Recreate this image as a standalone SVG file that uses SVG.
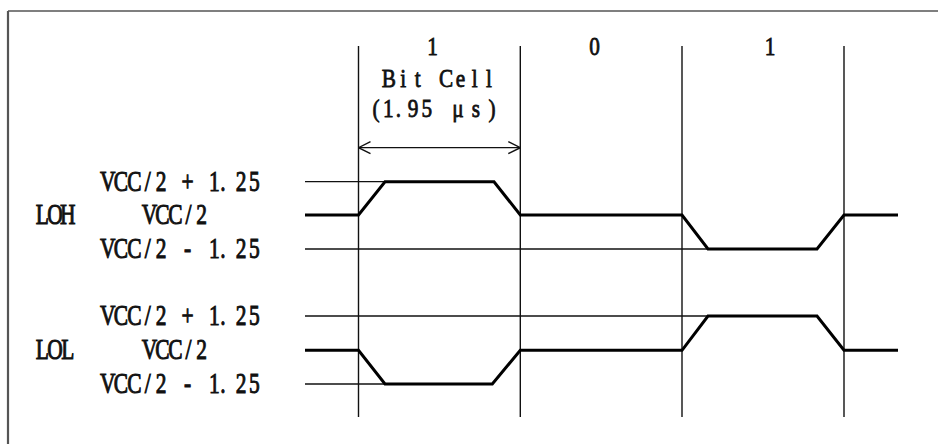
<svg xmlns="http://www.w3.org/2000/svg" width="938" height="444" viewBox="0 0 938 444">
  <style>
    .lbl { font-family: "Liberation Serif", "DejaVu Serif", serif; fill: #111; stroke: #111; text-anchor: middle; }
    .top { font-size: 25px; stroke-width: 0.8px; }
    .side { font-size: 29px; stroke-width: 1px; }
    .thin { stroke: #111; stroke-width: 1.3; fill: none; }
    .vline { stroke: #111; stroke-width: 1.4; fill: none; }
    .wave { stroke: #000; stroke-width: 3; fill: none; stroke-linejoin: miter; }
    .frame { stroke: #555; fill: none; }
  </style>
  <defs>
    <marker id="arr" viewBox="0 0 14 14" refX="13" refY="7" markerWidth="14" markerHeight="14" markerUnits="userSpaceOnUse" orient="auto-start-reverse">
      <polyline points="1,1 13,7 1,13" fill="none" stroke="#111" stroke-width="1.4"/>
    </marker>
  </defs>
  <rect width="938" height="444" fill="#fff"/>

  <g id="frame">
    <line class="frame" x1="8" y1="11" x2="938" y2="11" stroke-width="1.6"/>
    <line class="frame" x1="8" y1="11" x2="8" y2="444" stroke-width="2.2"/>
  </g>

  <g id="grid">
    <line class="vline" x1="358.5" y1="46" x2="358.5" y2="417"/>
    <line class="vline" x1="520.3" y1="46" x2="520.3" y2="417"/>
    <line class="vline" x1="682" y1="46" x2="682" y2="417"/>
    <line class="vline" x1="844" y1="46" x2="844" y2="417"/>
    <line class="thin" x1="305" y1="181.7" x2="494" y2="181.7"/>
    <line class="thin" x1="305" y1="249" x2="817" y2="249"/>
    <line class="thin" x1="305" y1="316" x2="817" y2="316"/>
    <line class="thin" x1="305" y1="384" x2="492" y2="384"/>
  </g>

  <g id="connectors">
    <line class="thin" x1="358.5" y1="147.7" x2="520.3" y2="147.7" marker-start="url(#arr)" marker-end="url(#arr)"/>
  </g>

  <g id="wave-LOH">
    <polyline class="wave" points="305,215 358.5,215 385,181.7 494,181.7 520.3,215 682,215 708,249 817,249 844,215 898,215"/>
  </g>
  <g id="wave-LOL">
    <polyline class="wave" points="305,350.3 358.5,350.3 385,384 492.3,384 520.3,350.3 682,350.3 708,316 817,316 844,350.3 898,350.3"/>
  </g>

  <g id="bit-labels">
    <text class="lbl top" transform="scale(0.85 1)" x="508.8" y="55">1</text>
    <text class="lbl top" transform="scale(0.85 1)" x="699.6" y="55">0</text>
    <text class="lbl top" transform="scale(0.85 1)" x="905.9" y="55">1</text>
    <text class="lbl top" transform="scale(0.85 1)" x="457.6 474.5 491.3 508.1 524.8 541.6 558.5 575.3" y="87">Bit Cell</text>
    <text class="lbl top" transform="scale(0.85 1)" x="442.4 456.8 468.8 485.9 502 520 538.8 560 578.8" y="117">(1.95 μs)</text>
  </g>

  <g id="LOH-labels">
    <text class="lbl side" transform="scale(0.74 1)" x="145.5 163.5 181.5 199.6 217.6 235.6 253.6 271.6 289.6 301.4 325.7 343.7" y="191">VCC/2 + 1.25</text>
    <text class="lbl side" transform="scale(0.74 1)" x="57.2 74.3 91.5" y="224.5">LOH</text>
    <text class="lbl side" transform="scale(0.74 1)" x="202.0 219.6 237.2 254.7 272.3" y="224.5">VCC/2</text>
    <text class="lbl side" transform="scale(0.74 1)" x="145.5 163.5 181.5 199.6 217.6 235.6 253.6 271.6 289.6 301.4 325.7 343.7" y="258.5">VCC/2 - 1.25</text>
  </g>

  <g id="LOL-labels">
    <text class="lbl side" transform="scale(0.74 1)" x="145.5 163.5 181.5 199.6 217.6 235.6 253.6 271.6 289.6 301.4 325.7 343.7" y="325.5">VCC/2 + 1.25</text>
    <text class="lbl side" transform="scale(0.74 1)" x="57.2 74.3 91.5" y="359.5">LOL</text>
    <text class="lbl side" transform="scale(0.74 1)" x="202.0 219.6 237.2 254.7 272.3" y="359.5">VCC/2</text>
    <text class="lbl side" transform="scale(0.74 1)" x="145.5 163.5 181.5 199.6 217.6 235.6 253.6 271.6 289.6 301.4 325.7 343.7" y="393.5">VCC/2 - 1.25</text>
  </g>
</svg>
